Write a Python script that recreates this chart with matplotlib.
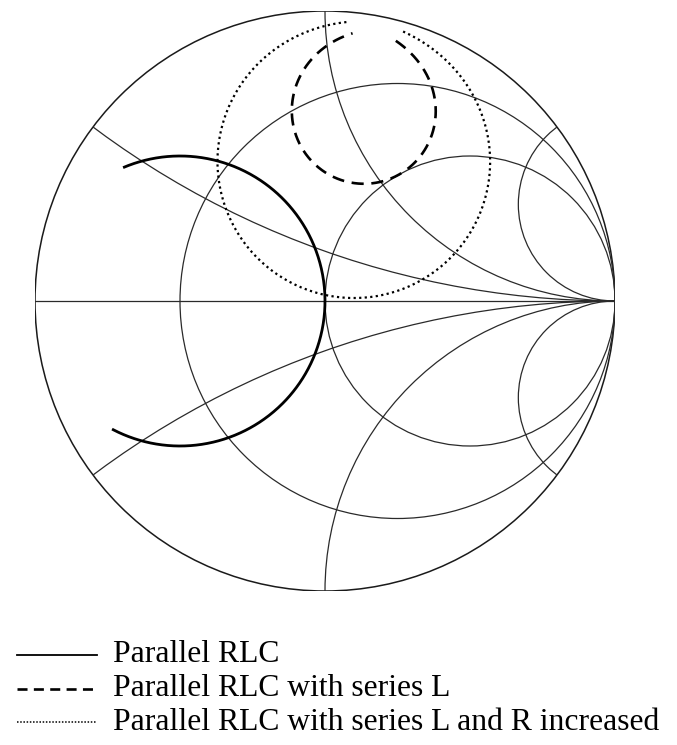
import numpy as np
import matplotlib
matplotlib.use('Agg')
import matplotlib.pyplot as plt
from matplotlib.patches import Circle
from matplotlib.lines import Line2D

# circuit values (ohms, normalised to z0)
z0 = 50.0
r_parallel = 50.0
r_parallel_increased = 117.0
q_loaded = 10.0           # Q of the parallel tank with R = z0
x_series_f0 = 1.17        # series L reactance at f0, normalised
f_ratio = (0.86, 1.18)    # sweep, f / f0

# Smith chart grid
grid_r = [1 / 3, 1]
grid_x = [1 / 3, 1, 3]

labels = [
    "Parallel RLC",
    "Parallel RLC with series L",
    "Parallel RLC with series L and R increased",
]


def gamma(z):
    return (z - 1) / (z + 1)


u = np.linspace(f_ratio[0], f_ratio[1], 600)
b = q_loaded * (u - 1 / u)
z_rlc = 1 / (z0 / r_parallel + 1j * b)
z_rlc_l = z_rlc + 1j * x_series_f0 * u
z_rlc_l_r = 1 / (z0 / r_parallel_increased + 1j * b) + 1j * x_series_f0 * u

fig = plt.figure(figsize=(6.77, 7.45), dpi=100)
ax = fig.add_axes([35 / 677, 1 - 591 / 745, 580 / 677, 580 / 745])
ax.set_xlim(-1, 1)
ax.set_ylim(-1, 1)
ax.set_aspect('equal')
ax.axis('off')

grid_kw = dict(color='#2a2a2a', lw=0.9)

outer = Circle((0, 0), 1, fill=False, ec='#1a1a1a', lw=1.1)
ax.add_patch(outer)
ax.plot([-1, 1], [0, 0], **grid_kw)

for r in grid_r:
    ax.add_patch(Circle((r / (1 + r), 0), 1 / (1 + r), fill=False,
                        ec=grid_kw['color'], lw=grid_kw['lw']))

clip = Circle((0, 0), 1, transform=ax.transData)
for x in grid_x:
    for s in (1, -1):
        arc = Circle((1, s / x), 1 / x, fill=False,
                     ec=grid_kw['color'], lw=grid_kw['lw'])
        ax.add_patch(arc)
        arc.set_clip_path(clip)

g = gamma(z_rlc)
ax.plot(g.real, g.imag, color='black', lw=2.0, solid_capstyle='butt')
g = gamma(z_rlc_l)
ax.plot(g.real, g.imag, color='black', lw=1.9, linestyle=(0, (4.6, 2.9)))
g = gamma(z_rlc_l_r)
ax.plot(g.real, g.imag, color='black', lw=1.6, linestyle=(0, (1, 1.5)))

# legend drawn under the chart
styles = [
    dict(lw=1.3, linestyle='-'),
    dict(lw=1.9, linestyle=(0, (3.8, 2.4))),
    dict(lw=1.1, linestyle=(0, (1, 1.1))),
]
rows_y = [655, 689, 722]
for label, st, y in zip(labels, styles, rows_y):
    yf = 1 - y / 745
    fig.add_artist(Line2D([17 / 677, 97 / 677], [yf, yf], color='black', **st))
    fig.text(113 / 677, yf, label, family='Liberation Serif', fontsize=22.8,
             va='center', ha='left')

fig.savefig('out.png', dpi=100)
